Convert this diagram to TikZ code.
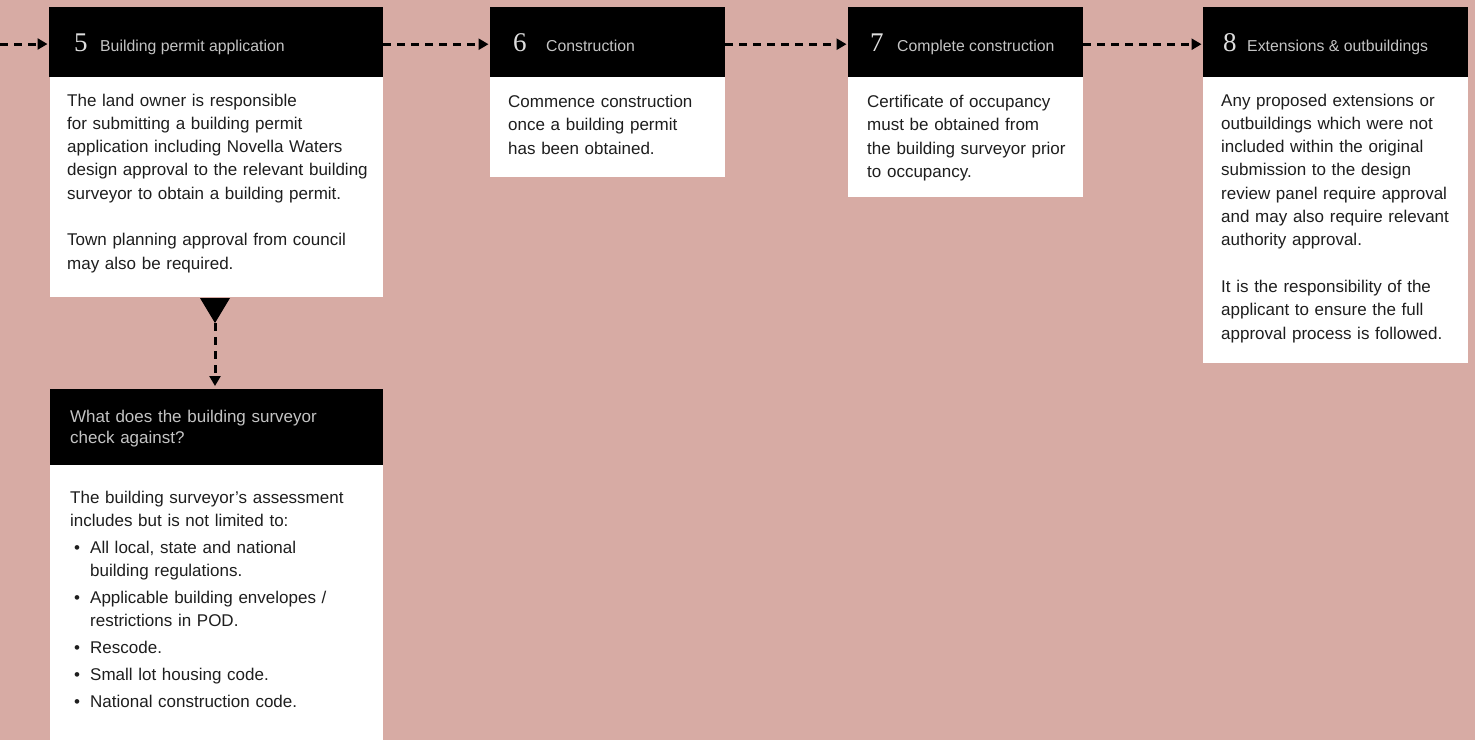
\documentclass[tikz,border=0pt]{standalone}
\usepackage{fontspec}
\newfontfamily\bodyfont{Liberation Sans}
\newfontfamily\numfont{Liberation Serif}
\usetikzlibrary{arrows.meta}
\definecolor{rose}{RGB}{215,171,164}
\definecolor{ink}{RGB}{30,30,30}
\definecolor{pale}{RGB}{196,196,196}
\definecolor{numgray}{RGB}{222,222,222}
\newcommand{\hangbul}{\makebox[20pt][l]{\hspace{4pt}\textbullet}}
\newcommand{\hangind}{\makebox[20pt]{}}
\tikzset{head/.style={fill=black, inner sep=0pt, anchor=north west},
         sheet/.style={fill=white, inner sep=0pt, anchor=north west},
         num/.style={anchor=base west, inner sep=0pt, text=numgray,
                     font=\numfont\fontsize{27}{30}\selectfont},
         title/.style={anchor=base west, inner sep=0pt, text=pale,
                       font=\bodyfont\fontsize{15.8}{21}\selectfont},
         txt/.style={anchor=base west, inner sep=0pt, text=ink, align=left,
                     text width=330pt, font=\bodyfont\fontsize{17}{23.3}\selectfont},
         flow/.style={line width=3pt, dash pattern=on 8pt off 6pt,
                      -{Triangle[length=10pt,width=11pt]}}}

\begin{document}
\begin{tikzpicture}[x=1pt,y=-1pt]
\useasboundingbox (0,0) rectangle (1475,740);
\fill[rose] (0,0) rectangle (1475,740);
% Step 5:
\node[head, minimum width=334pt, minimum height=70pt] (h5) at (49,7) {};
\node[sheet, minimum width=333pt, minimum height=220pt] (b5) at (50,77) {};
\node[num] (n5) at (74,51.5) {5};
\node[title] (l5) at (100,51.5) {Building permit application};
\node[txt] (t5) at (67,106) {The land owner is responsible\\
  for submitting a building permit\\
  application including Novella Waters\\
  design approval to the relevant building\\
  surveyor to obtain a building permit.\\[23.3pt]
  Town planning approval from council\\
  may also be required.};
% Step 6:
\node[head, minimum width=235pt, minimum height=70pt] (h6) at (490,7) {};
\node[sheet, minimum width=235pt, minimum height=100pt] (b6) at (490,77) {};
\node[num] (n6) at (513,51.5) {6};
\node[title] (l6) at (546,51.5) {Construction};
\node[txt] (t6) at (508,107.5) {Commence construction\\
  once a building permit\\
  has been obtained.};
% Step 7:
\node[head, minimum width=235pt, minimum height=70pt] (h7) at (848,7) {};
\node[sheet, minimum width=235pt, minimum height=120pt] (b7) at (848,77) {};
\node[num] (n7) at (870,51.5) {7};
\node[title] (l7) at (897,51.5) {Complete construction};
\node[txt] (t7) at (867,107.5) {Certificate of occupancy\\
  must be obtained from\\
  the building surveyor prior\\
  to occupancy.};
% Step 8:
\node[head, minimum width=265pt, minimum height=70pt] (h8) at (1203,7) {};
\node[sheet, minimum width=265pt, minimum height=286pt] (b8) at (1203,77) {};
\node[num] (n8) at (1223,51.5) {8};
\node[title] (l8) at (1247,51.5) {Extensions \& outbuildings};
\node[txt] (t8) at (1221,106) {Any proposed extensions or\\
  outbuildings which were not\\
  included within the original\\
  submission to the design\\
  review panel require approval\\
  and may also require relevant\\
  authority approval.\\[23.3pt]
  It is the responsibility of the\\
  applicant to ensure the full\\
  approval process is followed.};
% Surveyor check:
\node[head, minimum width=333pt, minimum height=76pt] (hq) at (50,389) {};
\node[sheet, minimum width=333pt, minimum height=275pt] (bq) at (50,465) {};
\node[txt, text=pale, font=\bodyfont\fontsize{17}{21}\selectfont] (lq) at (70,422)
  {What does the building surveyor\\ check against?};
\node[txt] (tq) at (70,503.3) {The building surveyor’s assessment\\
  includes but is not limited to:\\[3.5pt]
  \hangbul All local, state and national\\
  \hangind building regulations.\\[3.5pt]
  \hangbul Applicable building envelopes /\\
  \hangind restrictions in POD.\\[3.5pt]
  \hangbul Rescode.\\[3.5pt]
  \hangbul Small lot housing code.\\[3.5pt]
  \hangbul National construction code.};
% Arrows:
\coordinate (entry) at (0,44);
\draw[flow, shorten >=1.5pt] (entry) -- (entry -| h5.west);
\draw[flow, shorten >=1.5pt] ([yshift=-2pt]h5.east) -- ([yshift=-2pt]h6.west);
\draw[flow, shorten >=1.5pt] ([yshift=-2pt]h6.east) -- ([yshift=-2pt]h7.west);
\draw[flow, shorten >=1.5pt] ([yshift=-2pt]h7.east) -- ([yshift=-2pt]h8.west);
\fill (200,298) -- (230,298) -- (215,323) -- cycle; % Marker
\coordinate (tip) at (215,323);
\draw[flow, shorten >=3pt] (tip) -- (tip |- hq.north);
\end{tikzpicture}
\end{document}
